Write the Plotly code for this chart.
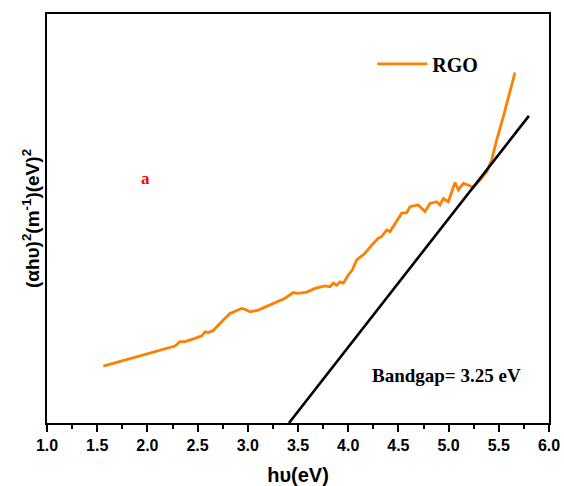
import plotly.graph_objects as go

# RGO Tauc plot data
energy_ev = [1.561, 2.142, 2.275, 2.325, 2.375, 2.474, 2.541, 2.574, 2.607, 2.656,
             2.706, 2.756, 2.823, 2.939, 2.972, 3.022, 3.105, 3.238, 3.371, 3.453,
             3.503, 3.587, 3.669, 3.769, 3.819, 3.852, 3.885, 3.918, 3.951, 4.001,
             4.041, 4.085, 4.167, 4.250, 4.300, 4.334, 4.383, 4.416, 4.466, 4.533,
             4.583, 4.616, 4.698, 4.765, 4.815, 4.881, 4.914, 4.947, 4.997, 5.064,
             5.097, 5.146, 5.196, 5.246, 5.313, 5.380, 5.429, 5.479, 5.545, 5.579,
             5.612, 5.661]
absorb_sq = [13.9, 18.0, 18.8, 19.9, 19.9, 20.7, 21.3, 22.3, 22.1, 22.6,
             24.0, 25.2, 26.8, 28.0, 27.8, 27.2, 27.6, 29.0, 30.5, 31.9,
             31.7, 32.0, 32.9, 33.5, 33.3, 34.2, 33.7, 34.5, 34.2, 36.2,
             37.4, 39.9, 41.5, 43.9, 45.2, 45.6, 47.2, 46.8, 48.8, 51.3,
             51.4, 52.9, 53.3, 51.7, 53.7, 54.1, 53.3, 54.9, 54.1, 58.8,
             57.0, 58.6, 58.2, 57.6, 59.4, 61.4, 64.3, 69.2, 74.9, 78.2,
             81.4, 85.7]

# Tangent (extrapolation) line
fit_x = [3.41, 5.80]
fit_y = [0.0, 75.1]

x_ticks = [1.0, 1.5, 2.0, 2.5, 3.0, 3.5, 4.0, 4.5, 5.0, 5.5, 6.0]
x_ticklabels = ["1.0", "1.5", "2.0", "2.5", "3.0", "3.5", "4.0", "4.5", "5.0", "5.5", "6.0"]

fig = go.Figure()
fig.add_trace(go.Scatter(x=energy_ev, y=absorb_sq, mode="lines", name="<b>RGO</b>",
                         line=dict(color="#FF8000", width=2.8)))
fig.add_trace(go.Scatter(x=fit_x, y=fit_y, mode="lines", showlegend=False,
                         line=dict(color="black", width=2.6)))

fig.add_annotation(x=4.984, y=11.5, text="<b>Bandgap= 3.25 eV</b>", showarrow=False,
                   font=dict(family="Liberation Serif", size=19, color="black"))
fig.add_annotation(x=1.986, y=59.9, text="<b>a</b>", showarrow=False,
                   font=dict(family="Liberation Serif", size=17, color="#FF0000"))

fig.update_layout(
    width=564, height=486,
    margin=dict(l=47, r=15, t=14, b=63),
    plot_bgcolor="white", paper_bgcolor="white",
    showlegend=True,
    legend=dict(x=0.648, y=0.878, xanchor="left", yanchor="middle",
                bgcolor="rgba(0,0,0,0)", itemwidth=50,
                font=dict(family="Liberation Serif", size=20, color="black")),
    xaxis=dict(range=[1.0, 6.0], tickvals=x_ticks, ticktext=x_ticklabels,
               automargin=False,
               showgrid=False, zeroline=False, showline=True, linecolor="black",
               linewidth=2, mirror=True, ticks="outside", ticklen=7, tickwidth=2,
               tickcolor="black",
               minor=dict(dtick=0.25, ticks="outside", ticklen=4, tickwidth=2, tickcolor="black"),
               tickfont=dict(family="Liberation Sans", size=16, color="black", weight="bold"),
               title=dict(text="<b>hυ(eV)</b>", standoff=17,
                          font=dict(family="Liberation Sans", size=20, color="black"))),
    yaxis=dict(range=[0, 100], showticklabels=False, ticks="", automargin=False,
               showgrid=False, zeroline=False, showline=True, linecolor="black",
               linewidth=2, mirror=True,
               title=dict(text="<b>(αhυ)<sup>2</sup>(m<sup>-1</sup>)(eV)<sup>2</sup></b>",
                          standoff=0,
                          font=dict(family="Liberation Sans", size=19, color="black"))),
)

fig.write_html("out.html")
